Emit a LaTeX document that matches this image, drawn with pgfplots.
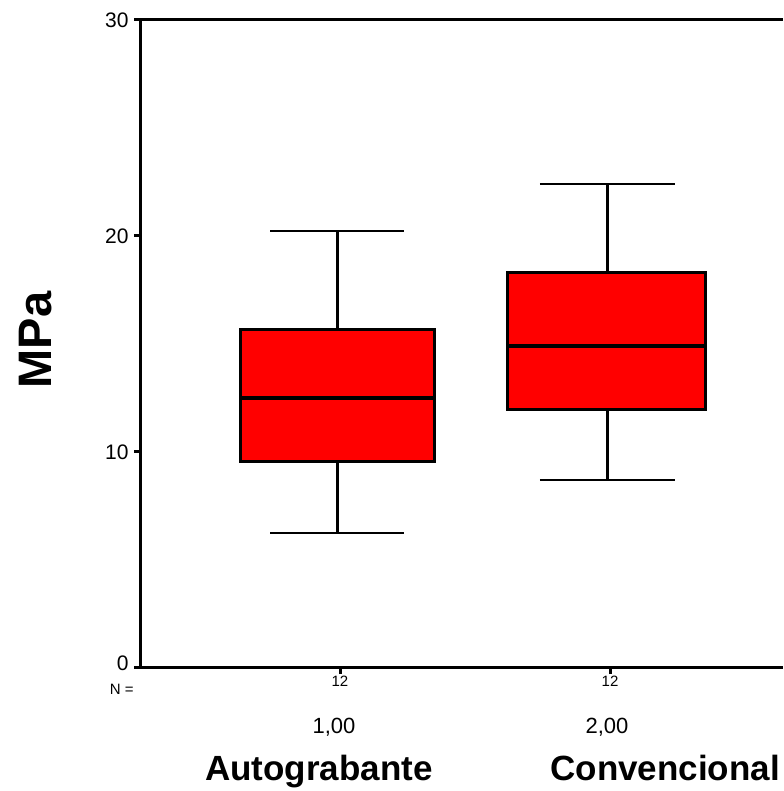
\documentclass[border=0pt]{standalone}
\usepackage{pgfplots}
\pgfplotsset{compat=1.18}
\usepackage{fontspec}
\setmainfont{Liberation Sans}
\begin{document}
\begin{tikzpicture}
\begin{axis}[
  at={(140pt,123pt)}, anchor=south west,
  scale only axis, width=643pt, height=648pt,
  xmin=0.2593, xmax=2.6407, ymin=0, ymax=30,
  axis x line*=box, axis y line*=left,
  axis line style={line width=3pt, black},
  xtick={1,2}, xticklabels={12,12},
  ytick={0,10,20,30}, yticklabels={\raisebox{10pt}{0},10,20,30},
  xtick pos=bottom, ytick pos=left,
  tick align=outside, major tick length=6pt,
  tick style={line width=3pt, black},
  /pgf/number format/assume math mode=true,
  yticklabel style={font=\fontsize{21}{21}\selectfont, xshift=-2pt},
  xticklabel style={font=\fontsize{15}{15}\selectfont, yshift=2pt},
  ylabel={\bfseries MPa},
  ylabel style={at={(rel axis cs:-0.1617,0.506)}, anchor=center, font=\fontsize{47}{47}\selectfont},
  clip=false,
  unbounded coords=jump,
]
% Autograbante: whiskers 6.25 / 20.23, quartiles 9.54 / 15.69, median 12.5
\addplot[black, line width=2.5pt, mark=none] coordinates {
  (0.99,6.25) (0.99,9.54) (nan,nan) (0.99,15.69) (0.99,20.23) (nan,nan)
  (0.742,6.25) (1.238,6.25) (nan,nan) (0.742,20.23) (1.238,20.23)};
\addplot[black, fill=red, line width=3pt, mark=none] coordinates {
  (0.63,9.54) (1.35,9.54) (1.35,15.69) (0.63,15.69)} -- cycle;
\addplot[black, line width=4.5pt, mark=none] coordinates {(0.63,12.5) (1.35,12.5)};
% Convencional: whiskers 8.70 / 22.4, quartiles 11.99 / 18.29, median 14.9
\addplot[black, line width=2.5pt, mark=none] coordinates {
  (1.99,8.70) (1.99,11.99) (nan,nan) (1.99,18.29) (1.99,22.4) (nan,nan)
  (1.74,8.70) (2.24,8.70) (nan,nan) (1.74,22.4) (2.24,22.4)};
\addplot[black, fill=red, line width=3pt, mark=none] coordinates {
  (1.62,11.99) (2.355,11.99) (2.355,18.29) (1.62,18.29)} -- cycle;
\addplot[black, line width=4.5pt, mark=none] coordinates {(1.62,14.9) (2.355,14.9)};
\node[anchor=base, font=\fontsize{15}{15}\selectfont] at (axis cs:0.192,-1.25) {N =};
\node[anchor=base, font=\fontsize{22}{22}\selectfont] at (axis cs:0.978,-3.05) {1,00};
\node[anchor=base, font=\fontsize{22}{22}\selectfont] at (axis cs:1.989,-3.05) {2,00};
\node[anchor=base, font=\bfseries\fontsize{35}{35}\selectfont] at (axis cs:0.922,-5.23) {Autograbante};
\node[anchor=base, font=\bfseries\fontsize{35}{35}\selectfont] at (axis cs:2.204,-5.23) {Convencional};
\end{axis}
\pgfresetboundingbox
\useasboundingbox (0,0) rectangle (783pt,791pt);
\end{tikzpicture}
\end{document}
